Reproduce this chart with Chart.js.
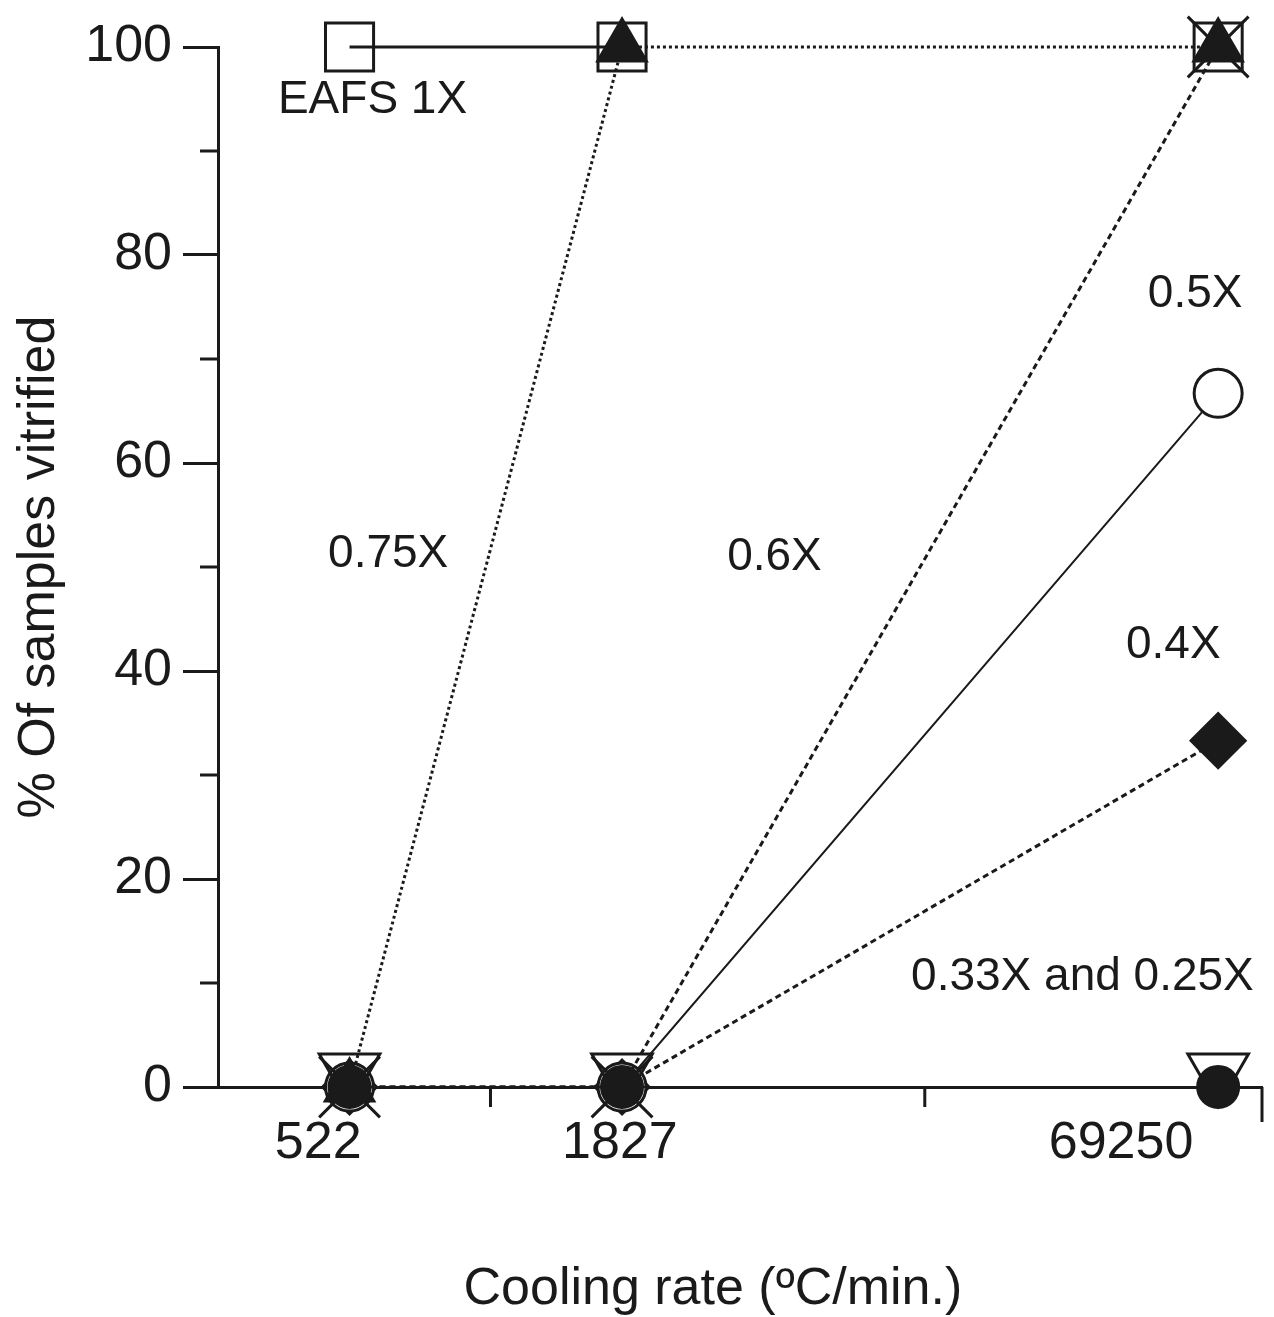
<!DOCTYPE html>
<html lang="en">
<head>
  <meta charset="UTF-8">
  <title>Vitrification vs cooling rate</title>
  <script src="https://cdn.jsdelivr.net/npm/chart.js"></script>
  <style>
    body { margin: 0; background: #fff; }
    .chart-container { width: 1274px; height: 1317px; }
  </style>
</head>
<body>

  <div class="chart-container">
    <canvas id="vitrifiedChart"></canvas>
  </div>

  <script>
    // cooling rates (°C/min) and where they sit on the x axis
    const coolingRates = ['522', '1827', '69250'];
    const ratePositions = [12.6, 38.7, 95.8];
    const rateLabelPositions = [9.6, 38.5, 86.5];

    // % of samples vitrified per slag dilution
    const eafs1x = [100, 100, 100];
    const x075 = [0, 100, 100];
    const x06 = [0, 0, 100];
    const x05 = [0, 0, 66.7];
    const x04 = [0, 0, 33.3];
    const x033 = [0, 0, 0];
    const x025 = [1.5, 1.5, 1.5];

    // axis ticks
    const yMajorTicks = [0, 20, 40, 60, 80, 100];
    const yMinorTicks = [10, 30, 50, 70, 90];
    const xMinorTicks = [26.1, 67.7];
    const xMajorTicks = [100];

    // series labels written inside the plot
    const seriesNotes = [
      { text: 'EAFS 1X', x: 14.8, y: 94.9 },
      { text: '0.75X', x: 16.3, y: 51.2 },
      { text: '0.6X', x: 53.3, y: 50.9 },
      { text: '0.5X', x: 93.6, y: 76.2 },
      { text: '0.4X', x: 91.5, y: 42.5 },
      { text: '0.33X and 0.25X', x: 82.8, y: 10.5 }
    ];
    const xTitle = { text: 'Cooling rate (ºC/min.)', x: 47.4 };

    const ink = '#1a1a1a';
    const fontFamily = '"Liberation Sans", Arial, sans-serif';

    function points(values) {
      return values.map((v, i) => ({ x: ratePositions[i], y: v }));
    }

    // minor / extra tick marks, x title and the text labels
    const extras = {
      id: 'extras',
      afterDraw(chart) {
        const { ctx, scales: { x, y } } = chart;
        ctx.save();
        ctx.strokeStyle = ink;
        ctx.lineWidth = 3;
        ctx.beginPath();
        yMinorTicks.forEach(v => {
          const py = y.getPixelForValue(v);
          ctx.moveTo(x.left - 18, py);
          ctx.lineTo(x.left, py);
        });
        xMinorTicks.forEach(v => {
          const px = x.getPixelForValue(v);
          ctx.moveTo(px, y.bottom);
          ctx.lineTo(px, y.bottom + 20);
        });
        xMajorTicks.forEach(v => {
          const px = x.getPixelForValue(v);
          ctx.moveTo(px, y.bottom);
          ctx.lineTo(px, y.bottom + 35);
        });
        ctx.stroke();

        ctx.fillStyle = ink;
        ctx.textAlign = 'center';
        ctx.textBaseline = 'middle';
        ctx.font = '52px ' + fontFamily;
        ctx.fillText(xTitle.text, x.getPixelForValue(xTitle.x), chart.height - 27);

        ctx.font = '46px ' + fontFamily;
        seriesNotes.forEach(n => {
          ctx.fillText(n.text, x.getPixelForValue(n.x), y.getPixelForValue(n.y));
        });
        ctx.restore();
      }
    };

    const ctx1 = document.getElementById('vitrifiedChart').getContext('2d');
    new Chart(ctx1, {
      type: 'line',
      data: {
        datasets: [
          {
            label: '0.33X',
            data: points(x033),
            borderColor: ink,
            borderWidth: 2,
            pointStyle: 'circle',
            pointRadius: 21,
            pointBackgroundColor: ink,
            pointBorderColor: ink
          },
          {
            label: '0.25X',
            data: points(x025),
            borderColor: 'transparent',
            borderWidth: 2,
            pointStyle: 'triangle',
            pointRotation: 180,
            pointRadius: 35,
            pointBorderWidth: 3,
            pointBackgroundColor: 'transparent',
            pointBorderColor: ink
          },
          {
            label: '0.6X',
            data: points(x06),
            borderColor: ink,
            borderWidth: 3,
            borderDash: [6, 4],
            pointStyle: 'crossRot',
            pointRadius: 43,
            pointBorderWidth: 3,
            pointBorderColor: ink
          },
          {
            label: '0.75X',
            data: points(x075),
            borderColor: ink,
            borderWidth: 3,
            borderDash: [3, 3],
            pointStyle: 'triangle',
            pointRadius: 28,
            pointBackgroundColor: ink,
            pointBorderColor: ink
          },
          {
            label: 'EAFS 1X',
            data: points(eafs1x),
            borderColor: ink,
            borderWidth: 3,
            segment: {
              borderColor: c => c.p1DataIndex === 2 ? 'transparent' : ink
            },
            pointStyle: 'rect',
            pointRadius: 34,
            pointBorderWidth: 3,
            pointBackgroundColor: 'transparent',
            pointBorderColor: ink
          },
          {
            label: '0.5X',
            data: points(x05),
            borderColor: ink,
            borderWidth: 2,
            pointStyle: 'circle',
            pointRadius: 24,
            pointBorderWidth: 3,
            pointBackgroundColor: '#fff',
            pointBorderColor: ink
          },
          {
            label: '0.4X',
            data: points(x04),
            borderColor: ink,
            borderWidth: 3,
            borderDash: [6, 4],
            pointStyle: 'rectRot',
            pointRadius: 27,
            pointBackgroundColor: ink,
            pointBorderColor: ink
          }
        ]
      },
      options: {
        responsive: true,
        maintainAspectRatio: false,
        animation: false,
        clip: false,
        layout: { autoPadding: false, padding: { top: 47, right: 12, bottom: 0, left: 0 } },
        plugins: {
          legend: { display: false },
          tooltip: { enabled: false }
        },
        scales: {
          x: {
            type: 'linear',
            min: 0,
            max: 100,
            afterFit: s => { s.height = 230; s.paddingLeft = 0; s.paddingRight = 0; },
            afterBuildTicks: s => {
              s.ticks = rateLabelPositions.map(v => ({ value: v }));
            },
            grid: { drawOnChartArea: false, tickLength: 0, tickColor: 'transparent' },
            border: { color: ink, width: 3 },
            ticks: {
              autoSkip: false,
              maxRotation: 0,
              padding: 25,
              color: ink,
              font: { family: fontFamily, size: 52 },
              callback: v => coolingRates[rateLabelPositions.indexOf(v)]
            }
          },
          y: {
            min: 0,
            max: 100,
            afterFit: s => { s.width = 218; },
            afterBuildTicks: s => {
              s.ticks = yMajorTicks.map(v => ({ value: v }));
            },
            grid: { drawOnChartArea: false, tickLength: 35, tickWidth: 3, tickColor: ink },
            border: { color: ink, width: 3 },
            ticks: {
              padding: 11,
              color: ink,
              font: { family: fontFamily, size: 52 }
            },
            title: {
              display: true,
              text: '% Of samples vitrified',
              color: ink,
              font: { family: fontFamily, size: 52, lineHeight: 1 },
              padding: { top: 14, bottom: 0 }
            }
          }
        }
      },
      plugins: [extras]
    });
  </script>

</body>
</html>
